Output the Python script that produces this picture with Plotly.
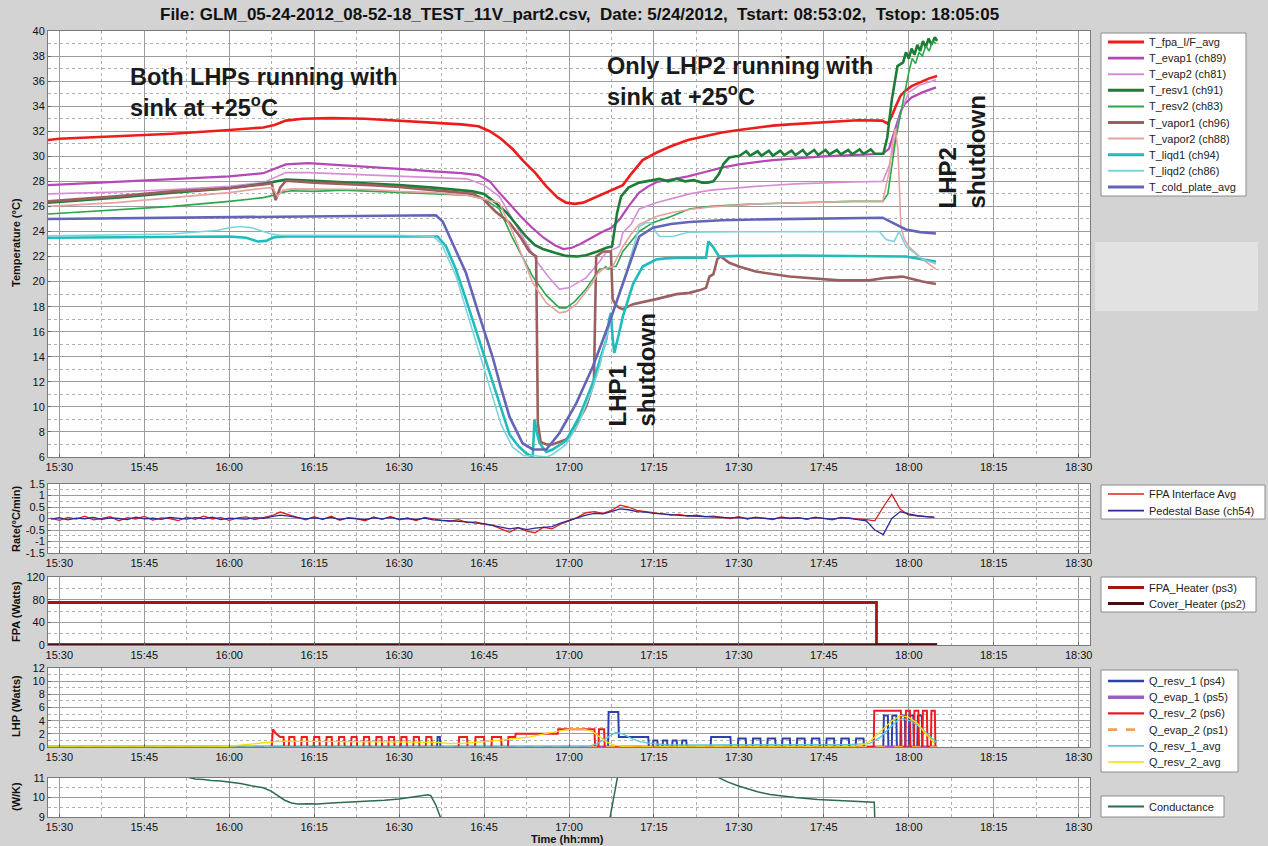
import plotly.graph_objects as go

W, H = 1268, 846
FONT = "Arial"

# ---------------- axis labels ----------------
TICK_LABELS = ["15:30", "15:45", "16:00", "16:15", "16:30", "16:45", "17:00",
               "17:15", "17:30", "17:45", "18:00", "18:15", "18:30"]
RATE_TICKS = [1.5, 1, 0.5, 0, -0.5, -1, -1.5]
RATE_TICK_TEXT = ["1.5", "1", "0.5", "0", "-0.5", "-1", "-1.5"]

# ---------------- temperature panel (time = minutes after 15:30) ----------------
T_FPA_T = [-2, 0, 10, 20, 30, 36, 38, 40, 43, 48, 54, 60, 66, 71, 74, 76, 78, 80, 82, 84, 86, 88, 89.5, 91, 92.5,
           94, 96, 98, 99.5, 101, 103, 105.5, 108, 111, 114, 117, 120, 123, 126, 129, 132, 135, 138, 141, 144,
           145.3, 146.3, 147, 147.7, 148.5, 149.3, 150.5, 152, 153.5, 155]
T_FPA_V = [31.3, 31.4, 31.6, 31.8, 32.1, 32.3, 32.5, 32.85, 33.0, 33.05, 33.0, 32.85, 32.7, 32.55, 32.4,
           32.0, 31.4, 30.6, 29.6, 28.7, 27.6, 26.7, 26.3, 26.2, 26.3, 26.6, 27.0, 27.4, 27.7, 28.6,
           29.7, 30.3, 30.8, 31.3, 31.6, 31.9, 32.1, 32.3, 32.45, 32.55, 32.65, 32.75, 32.8, 32.88, 32.9,
           32.85, 32.6, 33.2, 34.0, 34.8, 35.2, 35.6, 35.9, 36.2, 36.4]

T_EVAP1_T = [-2, 10, 20, 30, 36, 38, 40, 44, 50, 60, 66, 71, 74, 76, 77.5, 79.5, 81.5, 83.5, 85.5, 87.5, 89, 90.5,
             92, 94, 96, 97.5, 99, 100.5, 102.4, 104, 105.5, 108, 111, 114, 117, 120, 123, 126, 129, 132, 135,
             140, 145.4, 146.5, 147.2, 147.9, 148.6, 149.3, 150.5, 152.4, 154.8]
T_EVAP1_V = [27.7, 27.95, 28.15, 28.4, 28.65, 29.0, 29.35, 29.45, 29.3, 29.0, 28.8, 28.65, 28.5, 28.0, 27.2,
             26.2, 25.2, 24.3, 23.5, 22.9, 22.6, 22.7, 23.0, 23.5, 24.0, 24.3, 25.0, 26.0, 27.1, 27.6,
             27.95, 28.15, 28.4, 28.75, 29.1, 29.35, 29.55, 29.7, 29.8, 29.9, 30.0, 30.1, 30.2, 30.6, 31.6,
             32.7, 33.6, 34.2, 34.7, 35.1, 35.5]

T_EVAP2_T = [-2, 10, 20, 30, 36, 38, 40, 44, 50, 60, 66, 72, 75, 77.7, 80, 82.4, 84.5, 86.5, 88.3, 90, 91.5, 93,
             95.4, 96.5, 98.9, 99.5, 101, 102.4, 105.4, 108, 111.25, 115, 123, 130, 135, 140, 145.4, 146.5,
             147.4, 148.3, 149, 150, 152, 154.8]
T_EVAP2_V = [27.0, 27.15, 27.35, 27.6, 27.9, 28.3, 28.7, 28.7, 28.6, 28.45, 28.35, 28.2, 27.7, 26.8, 25.0,
             23.1, 21.5, 20.3, 19.4, 19.5, 19.9, 20.3, 21.6, 22.3, 22.8, 23.9, 24.6, 25.8, 26.3, 26.6,
             27.0, 27.3, 27.6, 27.8, 27.9, 27.95, 28.0, 29.2, 31.0, 33.0, 34.0, 35.1, 35.7, 36.1]

T_RESV1_T = [-2, 10, 20, 30, 36, 38, 40, 45, 55, 60, 66, 71, 73, 75, 77, 79, 81, 82.4, 84, 85.4, 87.5, 89.5,
             91.5, 93, 95, 96.6, 97.6, 98, 98.5, 99.2, 100.5, 102.4, 104.8, 106, 107.5, 109, 110.5, 112, 113.5,
             114.5, 115.5, 116.5, 117.3, 118.3, 119.5,
             120, 121.3, 122, 123.3, 124, 125.3, 126, 127.3, 128, 129.3, 130, 131.3, 132, 133.3, 134, 135.3,
             136, 137.3, 138, 139.3, 140, 141.3, 142, 143.3, 144,
             145.5, 146.2, 147, 148, 149, 149.5, 150, 150.5, 151, 151.5, 152, 152.5, 153, 153.5, 154, 154.6, 155]
T_RESV1_V = [26.3, 26.7, 27.1, 27.45, 27.8, 28.0, 28.15, 28.05, 27.85, 27.7, 27.5, 27.3, 27.2, 27.0, 26.3,
             25.5, 24.4, 23.6, 22.9, 22.6, 22.3, 22.05, 22.0, 22.1, 22.4, 22.7, 22.8, 24.0, 25.5, 26.8,
             27.5, 27.9, 28.1, 28.2, 28.0, 28.2, 28.0, 28.1, 27.9, 27.9, 28.0, 28.6, 29.4, 29.9, 30.0,
             30.0, 30.4, 30.05, 30.4, 30.05, 30.45, 30.05, 30.45, 30.1, 30.45, 30.1, 30.5, 30.1, 30.5, 30.1,
             30.5, 30.15, 30.5, 30.15, 30.5, 30.15, 30.55, 30.2, 30.55, 30.2,
             30.2, 31.5, 34.5, 37.2, 37.5, 38.3, 37.8, 38.6, 38.1, 38.9, 38.4, 39.2, 38.7, 39.4, 38.9, 39.5, 39.2]

T_RESV2_T = [-2, 10, 20, 30, 36, 38, 39, 41, 45, 50, 55, 60, 66, 72, 75, 77.7, 80, 83.6, 86, 88.3, 89.5, 91, 93,
             95, 95.4, 96, 96.5, 97, 97.5, 98.3, 99.5, 101.3, 102.4, 104.8, 108, 111.25, 115, 123, 130, 135,
             140, 145.4, 146.3, 147.7, 149, 150, 150.6, 151.2, 151.8, 152.4, 153, 153.6, 154.2, 154.8]
T_RESV2_V = [25.4, 25.7, 26.0, 26.4, 26.7, 26.9, 27.1, 27.25, 27.2, 27.3, 27.2, 27.15, 27.0, 26.9, 26.6,
             25.8, 23.5, 20.4, 18.9, 17.9, 17.9, 18.4, 19.4, 20.7, 21.0, 21.0, 21.2, 21.0, 21.2, 21.2,
             22.4, 23.4, 24.0, 24.7, 25.2, 25.8, 26.0, 26.2, 26.3, 26.35, 26.4, 26.4, 27.0, 31.4, 34.5,
             36.7, 37.8, 37.4, 38.3, 38.0, 38.8, 38.4, 39.2, 39.0]

T_VAPOR1_T = [-2, 10, 20, 30, 36, 37.5, 38.2, 39, 40, 45, 55, 60, 66, 70, 73, 74.8, 77, 79.5, 81.5, 83, 84.2,
              84.5, 85, 86, 87.1, 89.5, 91, 91.8, 93, 93.6, 94.4, 94.8, 96, 97.4, 97.7, 98.3, 98.9, 99.5,
              101.3, 105.4, 109, 111.25, 113, 114.2, 114.8, 115.5, 116.2, 116.8, 118.3, 120, 123, 128.9,
              133, 137.7, 143, 146, 148.9, 152.4, 154.8]
T_VAPOR1_V = [26.4, 26.8, 27.2, 27.45, 27.75, 27.85, 26.5, 27.5, 28.05, 27.9, 27.7, 27.55, 27.3, 27.15, 27.0,
              26.6, 25.6, 24.7, 23.5, 22.4, 22.0, 8.7, 7.2, 7.0, 7.0, 7.4, 8.2, 9.0, 10.0, 10.8,
              12.0, 22.0, 22.4, 22.4, 18.6, 18.1, 17.9, 17.8, 18.2, 18.6, 19.0, 19.1, 19.3, 19.5, 20.4,
              20.6, 21.8, 22.0, 21.5, 21.2, 20.8, 20.4, 20.25, 20.1, 20.1, 20.3, 20.4, 20.0, 19.8]

T_VAPOR2_T = [-2, 10, 20, 30, 36, 37.7, 38.5, 39.5, 41, 45, 55, 60, 66, 72, 75, 77.7, 80, 83.6, 86, 88.3, 89.5,
              91.3, 93, 94.2, 95, 96, 97.7, 99.5, 101, 102.4, 105.4, 108, 111.25, 115, 123, 130, 140, 145.4,
              146.5, 147.1, 147.6, 148.1, 148.6, 149.2, 150, 152.4, 154.8]
T_VAPOR2_V = [26.0, 26.3, 26.7, 27.1, 27.45, 27.5, 26.8, 27.3, 27.4, 27.4, 27.35, 27.2, 27.1, 26.9, 26.6,
              26.3, 24.0, 19.9, 18.3, 17.5, 17.6, 18.2, 19.2, 19.9, 20.6, 21.0, 21.2, 22.8, 23.8, 24.56,
              25.2, 25.5, 25.76, 25.95, 26.2, 26.3, 26.4, 26.4, 28.7, 31.0, 32.2, 30.5, 24.4, 23.4, 22.8,
              21.8, 21.0]

T_LIQD1_T = [-2, 10, 20, 30, 33, 35, 36.5, 38, 40, 45, 55, 60, 66.8, 68.3, 70, 71.8, 74, 76.5, 78, 79.5, 81,
             82.4, 83.6, 83.9, 84.3, 84.8, 86, 87.1, 89.5, 91.8, 94.2, 96.6, 97.1, 97.4, 97.7, 98, 98.9, 99.5,
             101.3, 102.4, 103, 105.4, 107, 110, 114.2, 114.6, 115.4, 116.5, 120, 130, 140, 149.5, 152, 154.8]
T_LIQD1_V = [23.5, 23.55, 23.6, 23.6, 23.5, 23.2, 23.25, 23.55, 23.6, 23.6, 23.6, 23.6, 23.6, 22.8, 21.0,
             18.6, 15.5, 11.9, 9.8, 7.8, 6.9, 6.3, 6.0, 9.0, 8.0, 7.1, 6.4, 6.6, 7.3, 9.2,
             11.9, 15.4, 17.0, 17.5, 15.5, 14.3, 16.0, 17.2, 19.8, 20.7, 21.2, 21.76, 21.85, 21.9, 21.9,
             23.2, 22.8, 22.0, 22.05, 22.08, 22.05, 22.0, 21.8, 21.6]

T_LIQD2_T = [-2, 10, 20, 28, 30, 32, 34, 36, 37.5, 39, 45, 55, 60, 66, 67.5, 70, 72, 74, 76, 78, 80, 82, 84, 86,
             87.1, 89.5, 91.8, 94.2, 95.4, 97.5, 100.1, 102.4, 103.6, 104.5, 105.4, 106, 108.3, 111.25, 120,
             130, 140, 144.8, 146, 147.4, 148.3, 149.5, 152.4, 154.8]
T_LIQD2_V = [23.65, 23.7, 23.8, 24.1, 24.3, 24.4, 24.3, 24.0, 23.8, 23.7, 23.7, 23.7, 23.7, 23.6, 23.0,
             20.5, 17.5, 14.5, 11.5, 8.6, 6.8, 6.1, 6.1, 6.0, 6.2, 7.0, 8.8, 11.5, 13.2, 17.2,
             20.7, 24.4, 24.7, 24.7, 23.9, 23.6, 23.6, 23.95, 23.98, 24.0, 24.0, 24.0, 23.36, 23.2, 24.0,
             22.8, 21.8, 21.4]

T_COLD_T = [-2, 10, 20, 30, 40, 50, 60, 66.5, 67.7, 69.5, 71.8, 74, 76.5, 78, 79.5, 81.8, 83.6, 86, 88.3, 91.3,
            94.2, 97.1, 100.1, 102.4, 104.8, 108, 111.25, 117, 123, 130, 140, 145.4, 147.1, 149.5, 152, 154.8]
T_COLD_V = [25.0, 25.05, 25.1, 25.1, 25.2, 25.2, 25.25, 25.3, 24.8, 23.0, 20.7, 17.5, 14.0, 11.5, 9.2,
            7.1, 6.6, 6.6, 7.9, 10.3, 13.2, 16.7, 20.7, 23.6, 24.3, 24.6, 24.75, 24.9, 24.96, 25.0,
            25.05, 25.1, 24.7, 24.16, 23.95, 23.84]

# ---------------- rate panel (sampled every 1.5 min from -1.5) ----------------
RATE_FPA = [0.02, -0.08, 0.05, -0.03, 0.1, -0.06, 0.0, 0.08, -0.1, 0.04, -0.02, 0.09, -0.07, 0.03, 0.0,
            -0.09, 0.06, -0.04, 0.1, -0.02, 0.05, -0.08, 0.03, 0.07, -0.05, 0.02, 0.12,
            0.28, 0.15, 0.05, -0.06,
            0.08, -0.05, 0.1, -0.08, 0.04, 0.0, -0.1, 0.07, -0.04, 0.09, -0.06, 0.02, -0.09, 0.05, -0.03, -0.08,
            -0.12, -0.05, -0.18, -0.15, -0.25, -0.3, -0.45,
            -0.6, -0.4, -0.55, -0.62, -0.38, -0.45,
            -0.25, -0.1, 0.05,
            0.25, 0.3, 0.22, 0.35,
            0.58, 0.5, 0.35, 0.3,
            0.25, 0.22, 0.15, 0.18, 0.1, 0.14, 0.08, 0.1,
            0.05, 0.0, 0.08, -0.03, 0.06, 0.02, -0.05, 0.07, 0.0, 0.04, -0.04, 0.06, 0.01, -0.06, 0.05, 0.0, -0.02,
            -0.05, -0.1, 0.5, 1.05, 0.4, 0.15, 0.12, 0.08, 0.05]
RATE_PED = [-0.03, 0.04, -0.06, 0.02, -0.01, 0.05, -0.04, 0.03, 0.0, -0.05, 0.06, -0.02, 0.01, -0.04, 0.05,
            0.0, -0.03, 0.04, -0.01, 0.06, -0.05, 0.02, 0.0, -0.03, 0.04, 0.01, 0.08,
            0.15, 0.1, 0.04, -0.02,
            0.03, -0.02, 0.05, -0.04, 0.02, 0.0, -0.05, 0.03, -0.02, 0.04, -0.03, 0.0, -0.05, 0.02, -0.06, -0.08,
            -0.1, -0.12, -0.15, -0.2, -0.22, -0.3, -0.38,
            -0.45, -0.4, -0.48, -0.42, -0.4, -0.35,
            -0.2, -0.08, 0.02,
            0.15, 0.22, 0.2, 0.3,
            0.42, 0.38, 0.3, 0.28,
            0.22, 0.2, 0.16, 0.14, 0.12, 0.1, 0.1, 0.08,
            0.06, 0.03, 0.05, 0.0, 0.04, 0.02, -0.02, 0.04, 0.01, 0.03, -0.02, 0.04, 0.02, -0.03, 0.03, 0.01, -0.05,
            -0.1, -0.5, -0.7, 0.0, 0.3, 0.2, 0.12, 0.08, 0.06]
RATE_T = [-1.5 + 1.5 * i for i in range(len(RATE_FPA))]

# ---------------- FPA heater panel ----------------
FPA_HEATER = [(-2, 75), (144.3, 75), (144.3, 0), (155, 0)]
COVER_HEATER = [(-2, 0.6), (155, 0.6)]

# ---------------- LHP heater panel ----------------
Q_RESV1 = [(-2, 0), (66.7, 0), (66.8, 1.5), (67.2, 1.5), (67.3, 0),
           (96.9, 0), (97, 5.3), (98.7, 5.3), (98.8, 1.5), (104, 1.5), (104.1, 0),
           (104.8, 0), (104.9, 1.0), (105.6, 1.0), (105.7, 0),
           (106.5, 0), (106.6, 1.0), (107.3, 1.0), (107.4, 0),
           (108.2, 0), (108.3, 1.0), (109, 1.0), (109.1, 0),
           (109.9, 0), (110, 1.0), (110.7, 1.0), (110.8, 0),
           (115, 0), (115.1, 1.5), (118.5, 1.5), (118.6, 0),
           (119.8, 0), (119.9, 1.3), (121.2, 1.3), (121.3, 0),
           (122.4, 0), (122.5, 1.3), (123.8, 1.3), (123.9, 0),
           (125, 0), (125.1, 1.3), (126.4, 1.3), (126.5, 0),
           (127.6, 0), (127.7, 1.3), (129, 1.3), (129.1, 0),
           (130.2, 0), (130.3, 1.3), (131.6, 1.3), (131.7, 0),
           (132.8, 0), (132.9, 1.3), (134.2, 1.3), (134.3, 0),
           (135.4, 0), (135.5, 1.3), (136.8, 1.3), (136.9, 0),
           (138, 0), (138.1, 1.3), (139.4, 1.3), (139.5, 0),
           (140.6, 0), (140.7, 1.3), (142, 1.3), (142.1, 0),
           (145.5, 0), (145.6, 4.8), (146.3, 4.8), (146.4, 0),
           (147, 0), (147.1, 4.8), (147.8, 4.8), (147.9, 0),
           (148.5, 0), (148.6, 4.8), (149.3, 4.8), (149.4, 0),
           (150, 0), (150.1, 4.8), (150.8, 4.8), (150.9, 0),
           (151.5, 0), (151.6, 4.8), (152.3, 4.8), (152.4, 0), (155, 0)]
Q_EVAP1 = [(-2, 0), (155, 0)]
Q_RESV2 = [(-2, 0), (37.5, 0), (37.7, 2.7), (38.3, 2.0), (39, 1.5), (39.6, 1.5), (39.7, 0),
           (40.5, 0), (40.6, 1.5), (41.5, 1.5), (41.6, 0),
           (42.7, 0), (42.8, 1.5), (43.7, 1.5), (43.8, 0),
           (44.9, 0), (45, 1.5), (45.9, 1.5), (46, 0),
           (47.1, 0), (47.2, 1.5), (48.1, 1.5), (48.2, 0),
           (49.3, 0), (49.4, 1.5), (50.3, 1.5), (50.4, 0),
           (51.5, 0), (51.6, 1.5), (52.5, 1.5), (52.6, 0),
           (53.7, 0), (53.8, 1.5), (54.7, 1.5), (54.8, 0),
           (55.9, 0), (56, 1.5), (56.9, 1.5), (57, 0),
           (58.1, 0), (58.2, 1.5), (59.1, 1.5), (59.2, 0),
           (60.3, 0), (60.4, 1.5), (61.3, 1.5), (61.4, 0),
           (62.5, 0), (62.6, 1.5), (63.5, 1.5), (63.6, 0),
           (64.7, 0), (64.8, 1.5), (65.7, 1.5), (65.8, 0),
           (70.5, 0), (70.6, 1.5), (72, 1.5), (72.1, 0),
           (73.4, 0), (73.5, 1.5), (75, 1.5), (75.1, 0),
           (76.3, 0), (76.4, 1.5), (78, 1.5), (78.1, 0),
           (79.2, 0), (79.3, 1.5), (80.5, 1.5), (80.6, 2.0), (88, 2.0), (88.1, 2.7), (94.5, 2.7), (94.6, 0),
           (95.2, 0), (95.3, 2.7), (96.2, 2.7), (96.3, 0),
           (143.8, 0), (143.9, 5.5), (148.6, 5.5), (148.7, 0),
           (149.4, 0), (149.5, 5.5), (150.2, 5.5), (150.3, 0),
           (150.9, 0), (151, 5.5), (151.7, 5.5), (151.8, 0),
           (152.4, 0), (152.5, 5.5), (153.2, 5.5), (153.3, 0),
           (153.9, 0), (154, 5.5), (154.6, 5.5), (154.7, 0), (155, 0)]
Q_EVAP2 = [(-2, 0), (155, 0)]
Q_RESV1_AVG = [(-2, 0), (93, 0), (95, 0.5), (97, 1.5), (98.2, 2.2), (99.5, 2.0), (101, 1.3), (102.5, 0.8),
               (104.5, 0.5), (107, 0.35), (110, 0.3), (115, 0.3), (120, 0.35), (130, 0.35), (140, 0.4),
               (143, 0.5), (145, 1.5), (146.5, 2.8), (148, 4.0), (149, 4.3), (150.5, 3.9), (152, 3.0),
               (153.5, 1.8), (155, 0.6)]
Q_RESV2_AVG = [(-2, 0), (28, 0), (31, 0.2), (34, 0.5), (37, 0.8), (39, 0.9), (45, 0.85), (55, 0.8), (64, 0.75),
               (66.8, 0.7), (69, 0.5), (72, 0.6), (76, 0.9), (80, 1.2), (83, 1.5), (85.6, 2.0), (88, 2.4),
               (90.4, 2.75), (92.5, 2.7), (94, 2.4), (95.5, 1.5), (96.5, 0.8), (98, 0.3), (100, 0), (140, 0),
               (142.5, 0.5), (144, 1.5), (145.5, 2.8), (147, 4.0), (148.6, 4.8), (150, 4.5), (151.5, 3.6),
               (153, 2.0), (154.5, 0.6)]

# ---------------- conductance panel ----------------
CONDUCTANCE = [(22.5, 11.05), (24, 10.95), (25.5, 10.92), (26.8, 10.87), (28.5, 10.85), (30.4, 10.8),
               (32, 10.72), (33.9, 10.6), (36, 10.5), (37.4, 10.33), (38.5, 10.1), (39.8, 9.86), (41, 9.72),
               (42.1, 9.67), (44, 9.68), (45.6, 9.67), (48, 9.72), (51.5, 9.76), (54, 9.8), (57.4, 9.86),
               (60, 9.92), (63.3, 10.05), (65.1, 10.14), (65.6, 10.1), (66.5, 9.6), (67.4, 8.9),
               (None, None), (97.2, 8.9), (98.6, 11.1),
               (None, None), (116.2, 11.05), (118, 10.8), (119.8, 10.6), (121.5, 10.45), (123.3, 10.3),
               (125.5, 10.15), (128, 10.05), (130, 10.0), (133.9, 9.9), (137, 9.85), (139.8, 9.8),
               (142, 9.78), (143.9, 9.76), (144, 8.9)]


def split(pairs):
    return [p[0] for p in pairs], [p[1] for p in pairs]


fig = go.Figure()
LEGENDS = {k: [] for k in ("1", "2", "3", "4", "5")}


def add(t, v, name, color, width, ax, leg, dash=None):
    fig.add_trace(go.Scatter(
        x=t, y=v, mode="lines", name=name, showlegend=False,
        line=dict(color=color, width=width, dash=dash),
        xaxis="x" + ax, yaxis="y" + ax, connectgaps=False))
    LEGENDS[leg].append((name, color, width, dash))


# Panel 1
add(T_FPA_T, T_FPA_V, "T_fpa_I/F_avg", "#ee1c1c", 2.6, "", "1")
add(T_EVAP1_T, T_EVAP1_V, "T_evap1 (ch89)", "#b548b5", 2.2, "", "1")
add(T_EVAP2_T, T_EVAP2_V, "T_evap2 (ch81)", "#d68fd6", 1.6, "", "1")
add(T_RESV1_T, T_RESV1_V, "T_resv1 (ch91)", "#1b7d36", 2.6, "", "1")
add(T_RESV2_T, T_RESV2_V, "T_resv2 (ch83)", "#2aa84a", 1.6, "", "1")
add(T_VAPOR1_T, T_VAPOR1_V, "T_vapor1 (ch96)", "#9b5f5f", 2.6, "", "1")
add(T_VAPOR2_T, T_VAPOR2_V, "T_vapor2 (ch88)", "#e6a3a0", 1.6, "", "1")
add(T_LIQD1_T, T_LIQD1_V, "T_liqd1 (ch94)", "#1fbcbc", 2.6, "", "1")
add(T_LIQD2_T, T_LIQD2_V, "T_liqd2 (ch86)", "#7fd3dc", 1.6, "", "1")
add(T_COLD_T, T_COLD_V, "T_cold_plate_avg", "#6464b8", 2.6, "", "1")

# Panel 2
add(RATE_T, RATE_FPA, "FPA Interface Avg", "#e02020", 1.3, "2", "2")
add(RATE_T, RATE_PED, "Pedestal Base (ch54)", "#2a2a9a", 1.3, "2", "2")

# Panel 3
t, v = split(FPA_HEATER)
add(t, v, "FPA_Heater (ps3)", "#a81414", 2.8, "3", "3")
t, v = split(COVER_HEATER)
add(t, v, "Cover_Heater (ps2)", "#4a0c0c", 2.8, "3", "3")

# Panel 4
t, v = split(Q_RESV1)
add(t, v, "Q_resv_1 (ps4)", "#2e3fae", 2.0, "4", "4")
t, v = split(Q_EVAP1)
add(t, v, "Q_evap_1 (ps5)", "#9a5fc0", 3.0, "4", "4")
t, v = split(Q_RESV2)
add(t, v, "Q_resv_2 (ps6)", "#ee1c1c", 2.0, "4", "4")
t, v = split(Q_EVAP2)
add(t, v, "Q_evap_2 (ps1)", "#f5a050", 2.2, "4", "4", dash="dash")
t, v = split(Q_RESV1_AVG)
add(t, v, "Q_resv_1_avg", "#5fc6dc", 1.3, "4", "4")
t, v = split(Q_RESV2_AVG)
add(t, v, "Q_resv_2_avg", "#f2e000", 1.3, "4", "4")

# Panel 5
t, v = split(CONDUCTANCE)
add(t, v, "Conductance", "#2d6b4f", 1.5, "5", "5")

BG = "#d3d3d3"
GRID = "#9c9c9c"
MINOR = "#b0b0b0"
TICKFONT = dict(family=FONT, size=11, color="#111")


def ydom(top, bottom):
    return [1 - bottom / H, 1 - top / H]


X_DOM = [48 / W, 1090 / W]
TICKV = [15 * i for i in range(len(TICK_LABELS))]

panels = [
    ("", 31, 457, dict(range=[6, 40], tick0=6, dtick=2, minor=1)),
    ("2", 484, 553, dict(range=[-1.5, 1.5], tickvals=RATE_TICKS, ticktext=RATE_TICK_TEXT, minor=0.25)),
    ("3", 577, 645, dict(range=[0, 120], tick0=0, dtick=40, minor=20)),
    ("4", 668, 747, dict(range=[0, 12], tick0=0, dtick=2, minor=1)),
    ("5", 778, 817, dict(range=[9, 11], tick0=9, dtick=1, minor=0.5)),
]

layout = dict(
    width=W, height=H, paper_bgcolor=BG, plot_bgcolor="white",
    margin=dict(l=0, r=0, t=0, b=0), showlegend=False,
    font=dict(family=FONT, size=11, color="#111"),
)

for suf, top, bottom, spec in panels:
    xa = dict(domain=X_DOM, range=[-2, 182], anchor="y" + suf,
              tickmode="array", tickvals=TICKV, ticktext=TICK_LABELS,
              showgrid=True, gridcolor=GRID, gridwidth=1,
              minor=dict(tick0=0, dtick=7.5, showgrid=True, gridcolor=MINOR, griddash="dot", gridwidth=1),
              showline=True, mirror=True, linecolor="#7a7a7a", linewidth=1,
              zeroline=False, tickfont=TICKFONT, automargin=False, ticklen=3, ticks="inside",
              tickcolor="#666")
    ya = dict(domain=ydom(top, bottom), range=spec["range"], anchor="x" + suf,
              showgrid=True, gridcolor=GRID, gridwidth=1,
              minor=dict(dtick=spec["minor"], showgrid=True, gridcolor=MINOR, griddash="dot", gridwidth=1),
              showline=True, mirror=True, linecolor="#7a7a7a", linewidth=1,
              zeroline=False, tickfont=TICKFONT, automargin=False, ticks="inside", ticklen=3,
              tickcolor="#666")
    if "tickvals" in spec:
        ya.update(tickmode="array", tickvals=spec["tickvals"], ticktext=spec["ticktext"])
        ya["minor"]["tick0"] = 0
    else:
        ya.update(tick0=spec["tick0"], dtick=spec["dtick"])
        ya["minor"]["tick0"] = spec["tick0"]
    layout["xaxis" + suf] = xa
    layout["yaxis" + suf] = ya

fig.update_layout(**layout)

# shapes: lighter box at right, dark reference line at 22 C
fig.add_shape(type="rect", xref="paper", yref="paper", x0=1095 / W, x1=1258 / W,
              y0=1 - 311 / H, y1=1 - 242 / H, fillcolor="#e2e2e2", line=dict(width=0), layer="below")
fig.add_shape(type="line", xref="x", yref="y", x0=-2, x1=182, y0=22, y1=22,
              line=dict(color="#111", width=1), layer="below")


def ann(text, x, y, size=11, angle=0, xa="center", ya="middle", bold=True, align="center", color="#111"):
    fig.add_annotation(text=("<b>%s</b>" % text) if bold else text, x=x / W, y=1 - y / H,
                       xref="paper", yref="paper", showarrow=False, textangle=angle,
                       xanchor=xa, yanchor=ya, align=align,
                       font=dict(family=FONT, size=size, color=color))


# legend boxes drawn to match the compact reference layout
def draw_legend(key, x0, x1, y0, y1, first, step):
    fig.add_shape(type="rect", xref="paper", yref="paper", x0=x0 / W, x1=x1 / W,
                  y0=1 - y1 / H, y1=1 - y0 / H, fillcolor="white",
                  line=dict(color="#8c8c8c", width=1))
    for k, (name, color, width, dash) in enumerate(LEGENDS[key]):
        yy = first + k * step
        fig.add_shape(type="line", xref="paper", yref="paper", x0=1108 / W, x1=1144 / W,
                      y0=1 - yy / H, y1=1 - yy / H, line=dict(color=color, width=width + 0.4, dash=dash))
        ann(name, 1147, yy, size=11, xa="left", bold=False, color="#222")


draw_legend("1", 1101, 1246, 33, 196, 42, 16.1)
draw_legend("2", 1101, 1265, 485, 519, 494, 16.7)
draw_legend("3", 1101, 1256, 577, 612, 587.5, 16)
draw_legend("4", 1101, 1238, 670, 772, 681, 16.2)
draw_legend("5", 1101, 1224, 796, 817, 806.5, 16)

ann("File: GLM_05-24-2012_08-52-18_TEST_11V_part2.csv,&nbsp; Date: 5/24/2012,&nbsp; "
    "Tstart: 08:53:02,&nbsp; Tstop: 18:05:05", 579, 15, size=17)
ann("Temperature (°C)", 16, 243, angle=-90)
ann("Rate(°C/min)", 16, 519, angle=-90)
ann("FPA (Watts)", 16, 612, angle=-90)
ann("LHP (Watts)", 16, 706, angle=-90)
ann("(W/K)", 16, 797, angle=-90)
ann("Time (hh:mm)", 567, 839)

ann("Both LHPs running with<br>sink at +25<sup>o</sup>C", 128, 62, size=23.5, xa="left", ya="top",
    align="left", color="#1a1a1a")
ann("Only LHP2 running with<br>sink at +25<sup>o</sup>C", 605, 51, size=23.5, xa="left", ya="top",
    align="left", color="#1a1a1a")
ann("LHP1", 617, 429, size=24, angle=-90, ya="bottom", color="#1a1a1a")
ann("shutdown", 646, 429, size=24, angle=-90, ya="bottom", color="#1a1a1a")
ann("LHP2", 947, 211, size=24, angle=-90, ya="bottom", color="#1a1a1a")
ann("shutdown", 976, 211, size=24, angle=-90, ya="bottom", color="#1a1a1a")

fig.write_html("out.html", config={"displayModeBar": False},
               post_script="document.body.style.margin='0px';document.body.style.padding='0px';")
